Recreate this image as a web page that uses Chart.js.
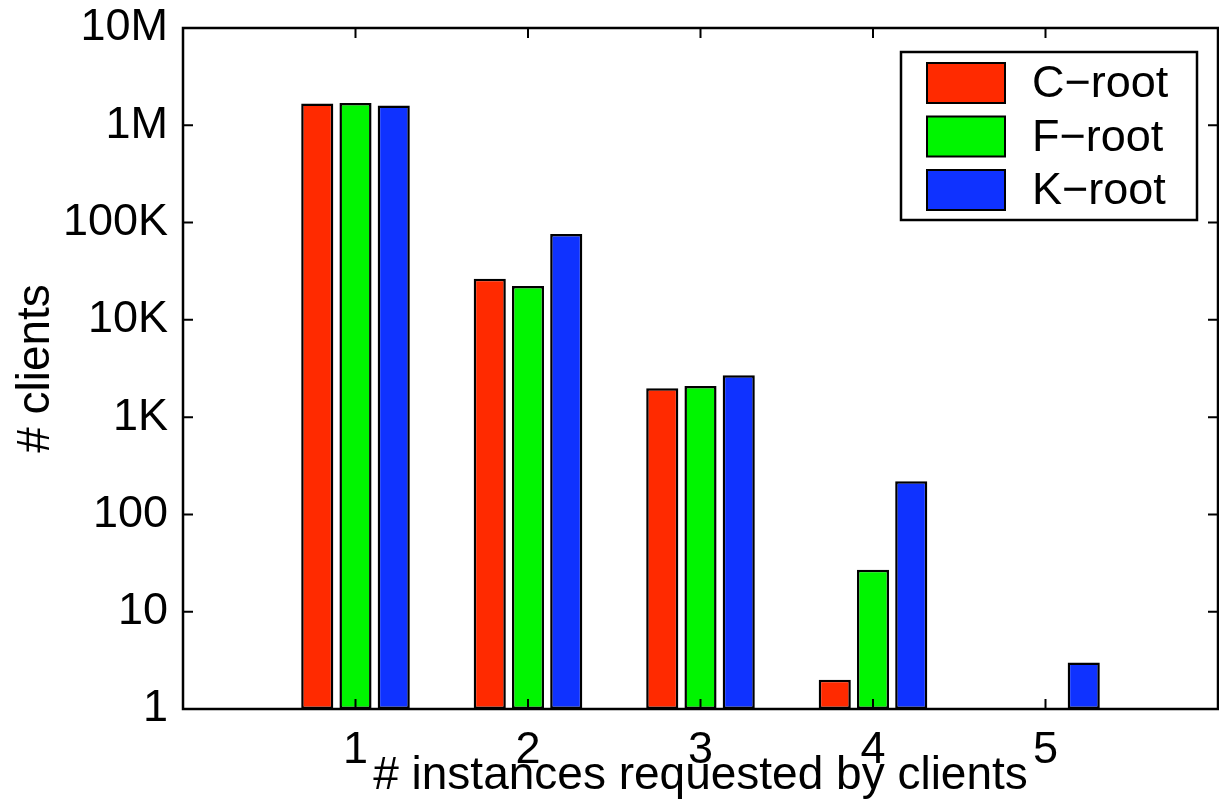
<!DOCTYPE html>
<html>
<head>
<meta charset="utf-8">
<script src="https://cdn.jsdelivr.net/npm/chart.js@4/dist/chart.umd.min.js"></script>
<style>
  html, body { margin: 0; padding: 0; background: #fff; }
  canvas { display: block; }
</style>
</head>
<body>
<canvas id="c" width="1219" height="803"></canvas>
<script>
// Number of root-server instances each client was seen querying
const categories = ['1', '2', '3', '4', '5'];
const seriesNames = ['C\u2212root', 'F\u2212root', 'K\u2212root'];
const cRoot = [1670000, 26400, 1980, 2, null];
const fRoot = [1690000, 22300, 2090, 27, null];
const kRoot = [1600000, 76200, 2690, 219, 3];
const yTickValues = [1, 10, 100, 1e3, 1e4, 1e5, 1e6, 1e7];
const yTickLabels = ['1', '10', '100', '1K', '10K', '100K', '1M', '10M'];
const seriesColors = ['#ff2a00', '#00f500', '#0f32ff'];

const FONT = '"Liberation Sans", Arial, Helvetica, sans-serif';

// the x axis spans 0..6 so the groups sit at 1..5 with a blank slot at each end
const axisLabels = ['', ...categories, ''];
const padEnds = arr => [null, ...arr, null];

// box around the plot with short inward tick marks on all four sides
const framePlugin = {
  id: 'frame',
  afterDatasetsDraw(chart) {
    const { ctx, chartArea: a, scales: { x, y } } = chart;
    const t = 10;
    ctx.save();
    ctx.strokeStyle = '#000';
    ctx.lineWidth = 2.5;
    ctx.strokeRect(a.left, a.top, a.right - a.left, a.bottom - a.top);
    ctx.lineWidth = 2;
    ctx.beginPath();
    x.ticks.forEach((tk, i) => {
      if (!axisLabels[i]) return;
      const px = x.getPixelForTick(i);
      ctx.moveTo(px, a.bottom); ctx.lineTo(px, a.bottom - t);
      ctx.moveTo(px, a.top); ctx.lineTo(px, a.top + t);
    });
    y.ticks.forEach(tk => {
      const py = y.getPixelForValue(tk.value);
      ctx.moveTo(a.left, py); ctx.lineTo(a.left + t, py);
      ctx.moveTo(a.right, py); ctx.lineTo(a.right - t, py);
    });
    ctx.stroke();
    ctx.restore();
  }
};

// boxed legend in the upper right corner of the plot
const boxLegendPlugin = {
  id: 'boxLegend',
  afterDraw(chart) {
    const { ctx, chartArea: a } = chart;
    const w = 296, h = 168;
    const bx = a.right - 21 - w, by = a.top + 24;
    ctx.save();
    ctx.fillStyle = '#fff';
    ctx.fillRect(bx, by, w, h);
    ctx.strokeStyle = '#000';
    ctx.lineWidth = 2.5;
    ctx.strokeRect(bx, by, w, h);
    ctx.lineWidth = 2;
    ctx.font = '45px ' + FONT;
    ctx.textBaseline = 'middle';
    ctx.textAlign = 'left';
    chart.data.datasets.forEach((ds, i) => {
      const cy = by + 31 + i * 53.5;
      ctx.fillStyle = ds.backgroundColor;
      ctx.fillRect(bx + 26, cy - 20, 78, 40);
      ctx.strokeRect(bx + 26, cy - 20, 78, 40);
      ctx.fillStyle = '#000';
      ctx.fillText(ds.label, bx + 131, cy + 2);
    });
    ctx.restore();
  }
};

const seriesData = [cRoot, fRoot, kRoot];

new Chart(document.getElementById('c'), {
  type: 'bar',
  data: {
    labels: axisLabels,
    datasets: seriesData.map((vals, i) => ({
      label: seriesNames[i],
      data: padEnds(vals),
      backgroundColor: seriesColors[i],
      borderColor: '#000',
      borderWidth: 2.5,
      borderSkipped: false,
      categoryPercentage: 0.665,
      barPercentage: 0.84
    }))
  },
  options: {
    responsive: false,
    animation: false,
    layout: { padding: { top: 28, right: 1, left: 0, bottom: 0 } },
    plugins: { legend: { display: false }, tooltip: { enabled: false } },
    scales: {
      x: {
        type: 'category',
        offset: false,
        grid: { display: false, drawTicks: false },
        border: { display: false },
        ticks: {
          autoSkip: false, maxRotation: 0, minRotation: 0, padding: 15,
          color: '#000', font: { family: FONT, size: 45 },
          callback: (v, i) => axisLabels[i]
        },
        title: {
          display: true, text: '# instances requested by clients', color: '#000',
          font: { family: FONT, size: 46, lineHeight: 1 },
          padding: { top: 0, bottom: 4 }
        },
        afterFit(s) {
          s.height = 94;
          s.paddingLeft = 0; s.paddingRight = 0;
        }
      },
      y: {
        type: 'logarithmic',
        min: 1, max: 1e7,
        grid: { display: false, drawTicks: false },
        border: { display: false },
        afterBuildTicks(s) { s.ticks = yTickValues.map(v => ({ value: v })); },
        ticks: {
          padding: 15, color: '#000', font: { family: FONT, size: 45 },
          callback: v => { const k = yTickValues.indexOf(v); return k < 0 ? '' : yTickLabels[k]; }
        },
        title: {
          display: true, text: '# clients', color: '#000',
          font: { family: FONT, size: 46, lineHeight: 1 },
          padding: { top: 13, bottom: 0 }
        },
        afterFit(s) {
          s.width = 183;
          s.paddingTop = 0; s.paddingBottom = 0;
        }
      }
    }
  },
  plugins: [framePlugin, boxLegendPlugin]
});
</script>
</body>
</html>
